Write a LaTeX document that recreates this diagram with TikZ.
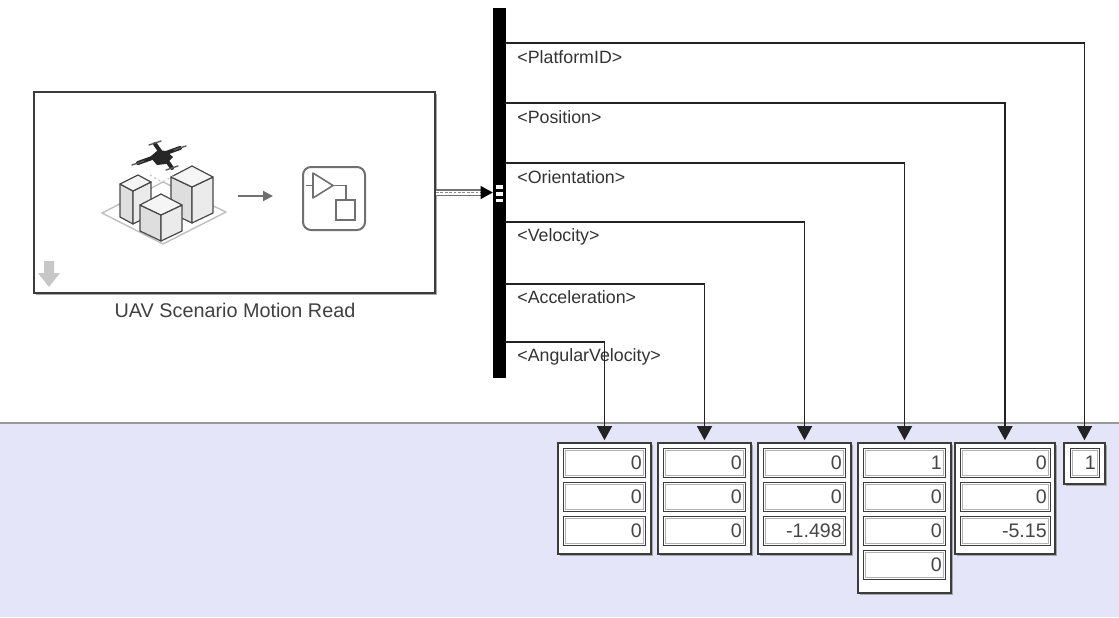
\documentclass[tikz,border=0pt]{standalone}
\usepackage{fontspec}
\setmainfont{Liberation Sans}
\usetikzlibrary{arrows.meta,fit,shadows}

\definecolor{lav}{RGB}{229,229,250}
\definecolor{edge}{RGB}{60,60,60}
\definecolor{sigc}{RGB}{35,35,35}
\definecolor{iconc}{RGB}{112,112,112}
\definecolor{bldline}{RGB}{72,72,72}
\definecolor{numc}{RGB}{70,70,70}

% one numeric field of a display block: name, x, y, text width, value
\newcommand\dfield[5]{\node[field, text width=#4] (#1) at (#2,#3) {#5};}

\begin{document}
\begin{tikzpicture}[x=0.5pt, y=-0.5pt,
  blockshadow/.style={drop shadow={shadow xshift=1.2pt, shadow yshift=-1.2pt, fill=black!35, opacity=1}},
  mainblk/.style={draw=edge, line width=1pt, fill=white, inner sep=0pt, blockshadow},
  dispblk/.style={draw=edge, line width=0.8pt, fill=white, inner sep=0pt, blockshadow},
  field/.style={draw=edge, line width=0.7pt, fill=white, anchor=north west,
    minimum height=14.5pt, inner xsep=2pt, inner ysep=0pt, align=right,
    font=\fontsize{9.8pt}{11pt}\selectfont, text=numc,
    path picture={\draw[black!30, line width=0.5pt]
      ([shift={(0.9pt,-0.9pt)}]path picture bounding box.north west) rectangle
      ([shift={(-0.9pt,0.9pt)}]path picture bounding box.south east);}},
  sig/.style={draw=sigc, line width=0.65pt, -{Triangle[length=7pt,width=7.5pt]}, shorten >=1pt},
  siglabel/.style={anchor=west, inner sep=0pt, text=black!80, font=\fontsize{8.9pt}{10pt}\selectfont},
  bld/.style={draw=bldline, line width=0.6pt, line join=round},
]
\useasboundingbox (0,0) rectangle (1119,617);
\fill[white] (0,0) rectangle (1119,617);

% lower canvas area
\fill[lav] (0,423) rectangle (1119,617);
\draw[black!40, line width=0.8pt] (0,423) -- (1119,423);

% ---- UAV Scenario Motion Read block ----
\node[mainblk, fit={(34,92) (435,293)}] (main) {};
\node[font=\fontsize{9.9pt}{11pt}\selectfont, text=black!75] (mainlbl) at (235,310) {UAV Scenario Motion Read};

% scene icon: ground plane
\draw[black!25, line width=0.7pt, fill=white, line join=round] (102,213) -- (163,182) -- (226,212) -- (163,244) -- cycle;
% back-left building
\draw[bld, fill=black!13] (120,184) -- (133,191) -- (133,224) -- (120,217) -- cycle;
\draw[bld, fill=black!8] (133,191) -- (151,182) -- (151,215) -- (133,224) -- cycle;
\draw[bld, fill=black!4] (120,184) -- (138,175) -- (151,182) -- (133,191) -- cycle;
% right building
\draw[bld, fill=black!13] (171,177) -- (192,187) -- (192,223) -- (171,213) -- cycle;
\draw[bld, fill=black!8] (192,187) -- (213,177) -- (213,213) -- (192,223) -- cycle;
\draw[bld, fill=black!4] (171,177) -- (192,166) -- (213,177) -- (192,187) -- cycle;
% front cube
\draw[bld, fill=black!13] (140,205) -- (161,215) -- (161,241) -- (140,231) -- cycle;
\draw[bld, fill=black!8] (161,215) -- (182,205) -- (182,231) -- (161,241) -- cycle;
\draw[bld, fill=black!4] (140,205) -- (161,194) -- (182,205) -- (161,215) -- cycle;
% drone
\draw[black!85, line width=2pt, line cap=round] (155,144) -- (172,168) (180,148) -- (138,163);
\fill[black!85] (150,157) -- (158,150) -- (166,151) -- (173,157) -- (166,164) -- (157,165) -- cycle;
\draw[black!65, line width=0.7pt, line cap=round]
  (149,145) -- (161,141) (174,150) -- (186,146) (132,165) -- (144,161) (166,170) -- (178,166);
\draw[black!25, line width=0.5pt, dash pattern=on 1pt off 1.5pt] (150,175) -- (162,182) -- (174,176);

% arrow between icons
\draw[iconc, line width=1pt, -{Triangle[length=5pt,width=5pt]}] (238,196) -- (273,196);

% subsystem icon
\draw[iconc, line width=1pt, rounded corners=4pt] (303,167) rectangle (365,230);
\draw[iconc, line width=0.8pt, line join=round] (313,173) -- (333,185.5) -- (313,198) -- cycle;
\draw[iconc, line width=0.8pt] (306,185.5) -- (313,185.5);
\draw[iconc, line width=0.8pt] (333,185.5) -- (346,185.5) -- (346,200);
\draw[iconc, line width=0.8pt] (336,200) rectangle (355,220);

% down arrow marker
\fill[black!22] (44,261) -- (54,261) -- (54,273) -- (60,273) -- (49,287) -- (38,273) -- (44,273) -- cycle;

% ---- bus selector ----
\node[fill=black, draw=black, line width=0.3pt, inner sep=0pt, fit={(493,8) (505,377)}] (bus) {};
\fill[white] (496,185) rectangle (503,189);
\fill[white] (496,192) rectangle (503,196);
\fill[white] (496,199) rectangle (503,202);

% bus signal into the selector
\draw[line width=3.6pt, black!55] (main.east) -- ([xshift=-5pt]main.east -| bus.west);
\draw[line width=2pt, white] (main.east) -- ([xshift=-5pt]main.east -| bus.west);
\draw[line width=0.9pt, black!45, dash pattern=on 1.4pt off 0.8pt] (main.east) -- ([xshift=-5pt]main.east -| bus.west);
\draw[black, line width=0.5pt, -{Triangle[length=6pt,width=6.5pt]}] ([xshift=-6pt]main.east -| bus.west) -- (main.east -| bus.west);

% selector outputs
\coordinate (o1) at (505,43);
\coordinate (o2) at (505,103);
\coordinate (o3) at (505,163);
\coordinate (o4) at (505,222);
\coordinate (o5) at (505,284);
\coordinate (o6) at (505,342);

\node[siglabel] (l1) at (517,57) {<PlatformID>};
\node[siglabel] (l2) at (517,117) {<Position>};
\node[siglabel] (l3) at (517,177) {<Orientation>};
\node[siglabel] (l4) at (517,237) {<Velocity>};
\node[siglabel] (l5) at (517,297) {<Acceleration>};
\node[siglabel] (l6) at (517,357) {<AngularVelocity>};

% ---- display blocks ----
\node[dispblk, fit={(558,443) (651,554)}] (d1) {};
\dfield{d1a}{563}{448}{37pt}{0}
\dfield{d1b}{563}{482}{37pt}{0}
\dfield{d1c}{563}{516}{37pt}{0}

\node[dispblk, fit={(658,443) (751,554)}] (d2) {};
\dfield{d2a}{663}{448}{37pt}{0}
\dfield{d2b}{663}{482}{37pt}{0}
\dfield{d2c}{663}{516}{37pt}{0}

\node[dispblk, fit={(758,443) (851,554)}] (d3) {};
\dfield{d3a}{763}{448}{37pt}{0}
\dfield{d3b}{763}{482}{37pt}{0}
\dfield{d3c}{763}{516}{37pt}{-1.498}

\node[dispblk, fit={(858,443) (951,593)}] (d4) {};
\dfield{d4a}{863}{448}{37pt}{1}
\dfield{d4b}{863}{482}{37pt}{0}
\dfield{d4c}{863}{516}{37pt}{0}
\dfield{d4d}{863}{550}{37pt}{0}

\node[dispblk, fit={(955,443) (1055,554)}] (d5) {};
\dfield{d5a}{960}{448}{41pt}{0}
\dfield{d5b}{960}{482}{41pt}{0}
\dfield{d5c}{960}{516}{41pt}{-5.15}

\node[dispblk, fit={(1064,443) (1105,484)}] (d6) {};
\dfield{d6a}{1070}{448}{10.5pt}{1}

% ---- signal routing ----
\draw[sig] (o1) -| (d6.north);
\draw[sig] (o2) -| (d5.north);
\draw[sig] (o3) -| (d4.north);
\draw[sig] (o4) -| (d3.north);
\draw[sig] (o5) -| (d2.north);
\draw[sig] (o6) -| (d1.north);
\end{tikzpicture}
\end{document}
